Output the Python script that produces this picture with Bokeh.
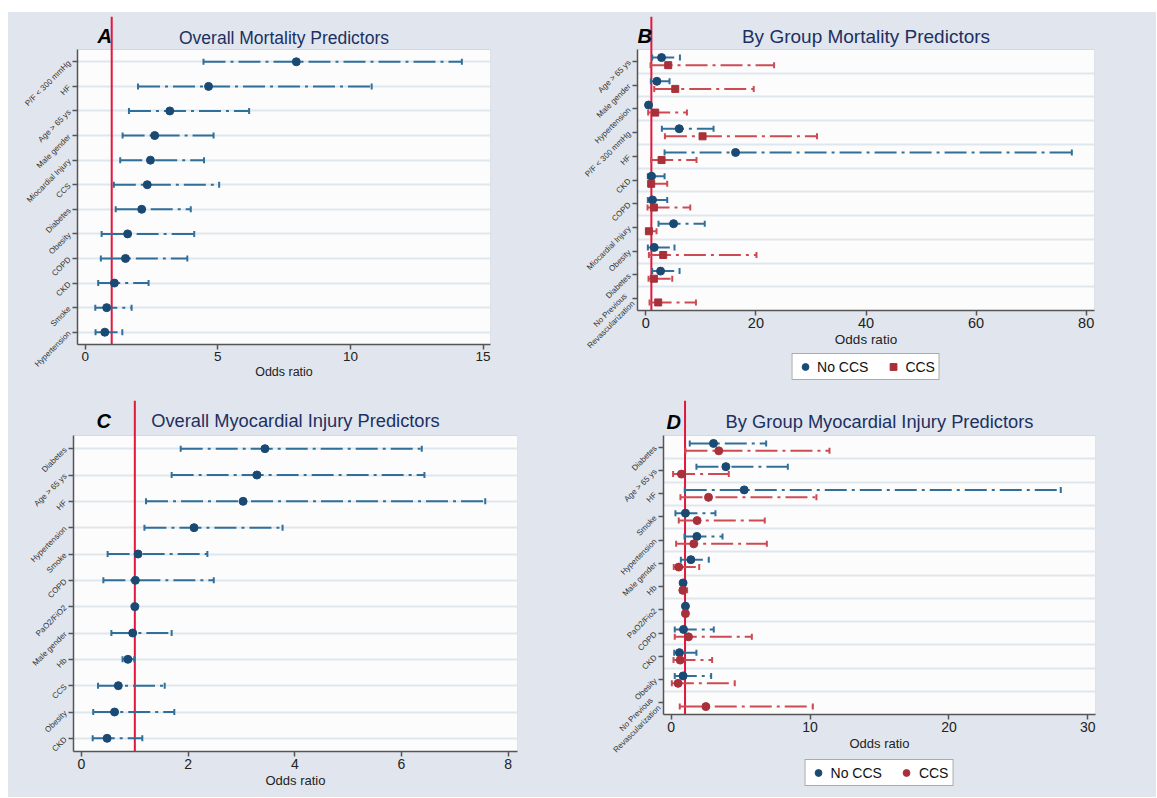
import math
from bokeh.plotting import figure
from bokeh.models import (Range1d, FixedTicker, Span, Label, Legend, LegendItem,
                          ColumnDataSource, Spacer)
from bokeh.layouts import column, row
from bokeh.embed import file_html
from bokeh.resources import INLINE

nan = float("nan")

# ---------------- DATA ----------------
# A: Overall mortality predictors (top to bottom)
A_labels = ["P/F < 300 mmHg", "HF", "Age > 65 ys", "Male gender", "Miocardial Injury", "CCS",
            "Diabetes", "Obesity", "COPD", "CKD", "Smoke", "Hypertension"]
A_or = [7.96, 4.65, 3.19, 2.62, 2.46, 2.34, 2.13, 1.60, 1.52, 1.10, 0.81, 0.74]
A_lo = [4.46, 1.99, 1.65, 1.41, 1.32, 1.08, 1.15, 0.62, 0.59, 0.49, 0.38, 0.39]
A_hi = [14.2, 10.8, 6.18, 4.84, 4.48, 5.05, 3.98, 4.11, 3.85, 2.39, 1.75, 1.40]
A_ticks = [0, 5, 10, 15]

# B: By group mortality predictors
B_labels = ["Age > 65 ys", "Male gender", "Hypertension", "P/F < 300 mmHg", "HF", "CKD", "COPD",
            "Miocardial Injury", "Obesity", "Diabetes", "No Previous\nRevascularization"]
B_no_or = [2.85, 2.00, 0.49, 6.06, 16.3, 1.03, 1.21, 5.03, 1.52, 2.67, nan]
B_no_lo = [1.15, 0.91, nan, 2.91, 3.40, 0.36, 0.36, 2.30, 0.36, 1.15, nan]
B_no_hi = [6.19, 4.30, nan, 12.3, 77.4, 3.40, 3.88, 10.7, 5.20, 6.12, nan]
B_ccs_or = [4.06, 5.34, 1.70, 10.3, 2.85, 0.97, 1.46, 0.55, 3.15, 1.46, 2.24]
B_ccs_lo = [0.85, 1.52, 0.42, 3.46, 0.97, 0.49, 0.30, 0.12, 0.55, 0.49, 0.67]
B_ccs_hi = [23.3, 19.6, 7.46, 31.1, 9.20, 3.88, 8.07, 1.94, 20.1, 4.79, 9.10]
B_ticks = [0, 20, 40, 60, 80]

# C: Overall myocardial injury predictors
C_labels = ["Diabetes", "Age > 65 ys", "HF", "Hypertension", "Smoke", "COPD", "PaO2/FiO2",
            "Male gender", "Hb", "CCS", "Obesity", "CKD"]
C_or = [3.44, 3.29, 3.03, 2.11, 1.06, 1.01, 1.00, 0.96, 0.87, 0.69, 0.62, 0.48]
C_lo = [1.86, 1.69, 1.21, 1.18, 0.49, 0.41, 0.99, 0.56, 0.77, 0.31, 0.22, 0.21]
C_hi = [6.38, 6.43, 7.57, 3.77, 2.36, 2.48, 1.01, 1.69, 0.99, 1.56, 1.74, 1.14]
C_ticks = [0, 2, 4, 6, 8]

# D: By group myocardial injury predictors
D_labels = ["Diabetes", "Age > 65 ys", "HF", "Smoke", "Hypertension", "Male gender", "Hb",
            "PaO2/Fio2", "COPD", "CKD", "Obesity", "No Previous\nRevascularization"]
D_no_or = [3.05, 3.94, 5.26, 1.03, 1.85, 1.42, 0.86, 1.03, 0.89, 0.60, 0.86, nan]
D_no_lo = [1.34, 1.82, 0.98, 0.31, 0.96, 0.70, nan, nan, 0.26, 0.22, 0.26, nan]
D_no_hi = [6.84, 8.40, 28.05, 3.19, 3.70, 2.71, nan, nan, 3.07, 1.82, 2.88, nan]
D_ccs_or = [3.43, 0.74, 2.69, 1.87, 1.63, 0.55, 0.84, 1.03, 1.25, 0.65, 0.50, 2.50]
D_ccs_lo = [1.03, 0.14, 0.67, 0.55, 0.36, 0.19, 0.67, nan, 0.26, 0.17, 0.05, 0.62]
D_ccs_hi = [11.4, 4.15, 10.46, 6.74, 6.89, 2.02, 1.15, nan, 5.81, 2.95, 4.58, 10.2]
D_ticks = [0, 10, 20, 30]

group_names = ["No CCS", "CCS"]
ref_value = 1.0

# ---------------- STYLE ----------------
FONT = "Liberation Sans"
BG = "#e1e6ee"
PLOT_BG = "#fcfcfd"
GRID = "#dfe7ee"
AXIS = "#555555"
NAVY = "#1a4a74"
BLUE_LINE = "#306f99"
RED_MK = "#a8303a"
RED_LINE = "#cc4b53"
REF = "#e3173b"
TITLE_C = "#1c3062"
DASH = "22 5 3 5"


def make_fig(width, height, ml, mr, mt, mb, header, plot_h, xr, n, xticks, labels,
             title, title_size, title_gap, letter, letter_dx, letter_gap,
             tick_size, label_size, grid_between):
    unit = plot_h / n
    y_top = n + 0.5 + header / unit
    p = figure(width=width, height=height, output_backend="svg", toolbar_location=None,
               x_range=Range1d(xr[0], xr[1]), y_range=Range1d(0.5, y_top),
               min_border_left=ml, min_border_right=mr, min_border_top=mt, min_border_bottom=mb)
    p.border_fill_color = BG
    p.background_fill_color = BG
    p.outline_line_color = None
    # white plotting region (below the header band), spanning the x range
    q = p.quad(left=[xr[0]], right=[xr[1]], bottom=[0.5], top=[n + 0.5],
               fill_color=PLOT_BG, line_color="#d3d9e1", line_width=1)
    q.level = "image"
    p.xgrid.visible = False
    yticks = [n - i for i in range(n)]
    p.yaxis.ticker = FixedTicker(ticks=yticks)
    p.yaxis.major_label_overrides = {n - i: lab for i, lab in enumerate(labels)}
    p.yaxis.bounds = (0.5, n + 0.5)
    if grid_between:
        p.ygrid.ticker = FixedTicker(ticks=[k + 0.5 for k in range(1, n)])
    p.ygrid.grid_line_color = GRID
    p.ygrid.grid_line_width = 2
    p.xaxis.ticker = FixedTicker(ticks=xticks)
    p.xaxis.axis_label = "Odds ratio"
    for ax in (p.xaxis[0], p.yaxis[0]):
        ax.axis_line_color = AXIS
        ax.axis_line_width = 1.5
        ax.major_tick_line_color = AXIS
        ax.major_tick_line_width = 1.5
        ax.major_tick_out = 5
        ax.major_tick_in = 0
        ax.minor_tick_out = 0
        ax.minor_tick_in = 0
        ax.major_label_text_font = FONT
        ax.axis_label_text_font = FONT
    p.xaxis.major_label_text_font_size = tick_size
    p.xaxis.major_label_text_color = "#222222"
    p.xaxis.major_label_standoff = 2
    p.xaxis.axis_label_text_font_size = label_size
    p.xaxis.axis_label_text_font_style = "normal"
    p.xaxis.axis_label_text_color = "#222222"
    p.xaxis.axis_label_standoff = 1
    p.yaxis.major_label_text_font_size = "8px"
    p.yaxis.major_label_text_color = "#333333"
    p.yaxis.major_label_orientation = math.pi / 4
    p.yaxis.major_label_standoff = 3

    fw = width - ml - mr
    p.add_layout(Label(x=fw / 2, y=plot_h + title_gap, x_units="screen", y_units="screen",
                       text=title, text_align="center", text_baseline="alphabetic",
                       text_font=FONT, text_font_size=title_size, text_color=TITLE_C))
    p.add_layout(Label(x=letter_dx, y=plot_h + letter_gap, x_units="screen", y_units="screen",
                       text=letter, text_align="left", text_baseline="alphabetic",
                       text_font=FONT, text_font_size="20px", text_font_style="bold italic",
                       text_color="#000000"))
    span = Span(location=ref_value, dimension="height", line_color=REF, line_width=2)
    span.level = "underlay"
    p.add_layout(span)
    return p


def draw_series(p, ys, ors, los, his, line_color, mk_color, marker, size):
    src = ColumnDataSource(dict(y=ys, o=ors, lo=los, hi=his))
    p.segment(x0="lo", y0="y", x1="hi", y1="y", source=src, line_color=line_color,
              line_width=2, line_dash=DASH)
    p.scatter(x="lo", y="y", source=src, marker="dash", angle=math.pi / 2, size=6,
              line_color=line_color, line_width=2)
    p.scatter(x="hi", y="y", source=src, marker="dash", angle=math.pi / 2, size=6,
              line_color=line_color, line_width=2)
    r = p.scatter(x="o", y="y", source=src, marker=marker, size=size,
                  fill_color=mk_color, line_color=mk_color)
    return r


def legend_fig(width, height, ml, mr, markers, colors, sizes):
    """Small strip under a panel holding the group legend (key only, no data)."""
    p = figure(width=width, height=height, output_backend="svg", toolbar_location=None,
               x_range=Range1d(0, 1), y_range=Range1d(0, 1),
               min_border_left=ml, min_border_right=mr, min_border_top=0, min_border_bottom=0)
    p.border_fill_color = BG
    p.background_fill_color = BG
    p.outline_line_color = None
    p.axis.visible = False
    p.grid.visible = False
    rs = []
    for m, c, s in zip(markers, colors, sizes):
        rs.append(p.scatter(x=[nan], y=[nan], marker=m, size=s, fill_color=c, line_color=c))
    leg = Legend(items=[LegendItem(label=group_names[i], renderers=[r])
                        for i, r in enumerate(rs)],
                 location="top_center", orientation="horizontal")
    leg.label_text_font = FONT
    leg.label_text_font_size = "14px"
    leg.label_text_color = "#111111"
    leg.border_line_color = "#555555"
    leg.border_line_width = 1.5
    leg.background_fill_color = "#ffffff"
    leg.background_fill_alpha = 1
    leg.padding = 4
    leg.spacing = 16
    leg.margin = 0
    leg.glyph_width = 17
    leg.glyph_height = 17
    leg.label_height = 14
    leg.label_standoff = 4
    p.add_layout(leg)
    return p


OFF = 0.16

# ---- A ----  (figure x 8..563, y 12..390; frame 77..490 / 16..344, plot area from y=49)
nA = len(A_labels)
pA = make_fig(555, 378, 69, 73, 4, 46, 33, 295, (-0.29, 15.28), nA, A_ticks, A_labels,
              "Overall Mortality Predictors", "17.5px", 12, "A", 20, 14,
              "13.5px", "12.5px", False)
yA = [nA - i for i in range(nA)]
draw_series(pA, yA, A_or, A_lo, A_hi, BLUE_LINE, NAVY, "circle", 8)

# ---- B ----  (figure x 563..1156; frame 637..1094 / 16..310; legend from y=353)
nB = len(B_labels)
pB = make_fig(593, 341, 74, 62, 4, 43, 33, 261, (-1.52, 81.52), nB, B_ticks, B_labels,
              "By Group Mortality Predictors", "19px", 13, "B", 0, 14,
              "14.5px", "13.5px", True)
yB = [nB - i for i in range(nB)]
draw_series(pB, [v + OFF for v in yB], B_no_or, B_no_lo, B_no_hi, BLUE_LINE, NAVY, "circle", 8)
draw_series(pB, [v - OFF for v in yB], B_ccs_or, B_ccs_lo, B_ccs_hi, RED_LINE, RED_MK, "square", 7)
lB = legend_fig(593, 37, 74, 62, ["circle", "square"], [NAVY, RED_MK], [8, 7])

# ---- C ----  (figure x 8..578, y 390..797; frame 73..517 / 400..751, plot area from 435)
nC = len(C_labels)
pC = make_fig(570, 407, 65, 61, 10, 46, 35, 316, (-0.15, 8.175), nC, C_ticks, C_labels,
              "Overall Myocardial Injury Predictors", "18.3px", 15, "C", 23, 14.5,
              "14px", "13px", False)
yC = [nC - i for i in range(nC)]
draw_series(pC, yC, C_or, C_lo, C_hi, BLUE_LINE, NAVY, "circle", 8)

# ---- D ----  (figure x 578..1156; frame 663..1095 / 400..714; legend from y=759)
nD = len(D_labels)
pD = make_fig(578, 369, 85, 61, 10, 45, 35, 279, (-0.55, 30.55), nD, D_ticks, D_labels,
              "By Group Myocardial Injury Predictors", "18.3px", 14, "D", 3, 14,
              "14px", "13px", True)
yD = [nD - i for i in range(nD)]
draw_series(pD, [v + OFF for v in yD], D_no_or, D_no_lo, D_no_hi, BLUE_LINE, NAVY, "circle", 8)
draw_series(pD, [v - OFF for v in yD], D_ccs_or, D_ccs_lo, D_ccs_hi, RED_LINE, RED_MK, "circle", 8)
lD = legend_fig(578, 38, 85, 61, ["circle", "circle"], [NAVY, RED_MK], [8, 8])

WHITE = {"background-color": "#ffffff"}
PANEL = {"background-color": BG}
layout = column(
    Spacer(width=1156, height=12, styles=WHITE),
    row(Spacer(width=8, height=378, styles=WHITE), column(pA, styles=PANEL),
        column(pB, lB, styles=PANEL), styles=PANEL),
    row(Spacer(width=8, height=407, styles=WHITE), column(pC, styles=PANEL),
        column(pD, lD, styles=PANEL), styles=PANEL),
)
open("out.html", "w").write(file_html(layout, INLINE))
